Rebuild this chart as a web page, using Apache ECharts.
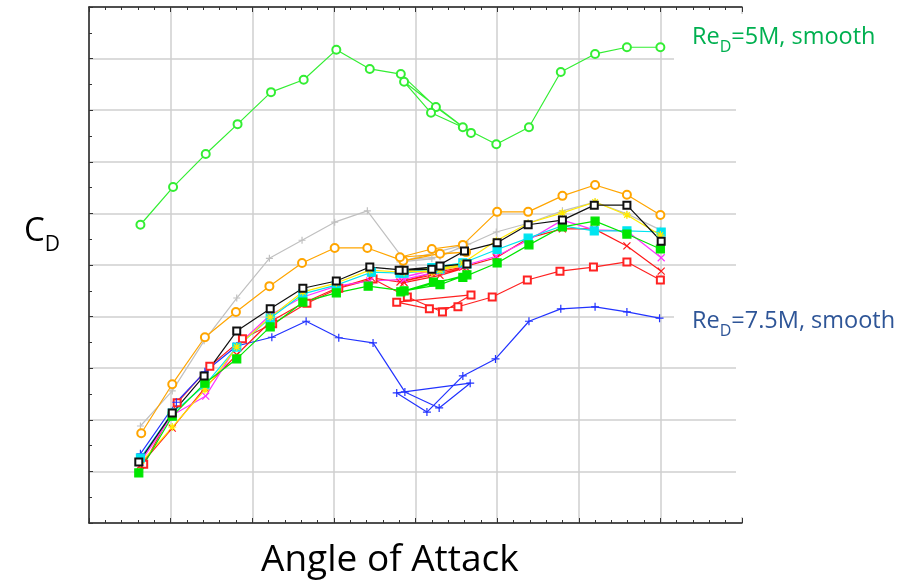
<!DOCTYPE html>
<html>
<head>
<meta charset="utf-8">
<script src="https://cdn.jsdelivr.net/npm/echarts@6/dist/echarts.min.js"></script>
<style>
  html, body { margin: 0; padding: 0; background: #fff; }
  #main { width: 899px; height: 583px; }
</style>
</head>
<body>
<div id="main"></div>
<script>
// points are [angle, CD] in axis units, in the order the sweep was run
var re5mSmooth = [[0.63,5.78],[1.03,6.51],[1.43,7.15],[1.82,7.73],[2.23,8.35],[2.63,8.59],[3.03,9.17],[3.44,8.80],
	[3.82,8.70],[4.25,8.06],[4.68,7.56],[3.86,8.55],[4.19,7.95],[4.58,7.67],[4.99,7.34],[5.39,7.67],[5.78,8.74],[6.20,9.09],[6.59,9.22],[7.00,9.22]];
var re75mSmooth = [[0.63,1.34],[1.07,2.34],[1.42,2.93],[1.81,3.43],[2.24,3.60],[2.66,3.91],[3.06,3.59],[3.48,3.49],
	[3.87,2.54],[4.29,2.23],[4.67,2.71],[3.77,2.52],[4.14,2.15],[4.58,2.85],[4.98,3.18],[5.39,3.91],[5.78,4.15],[6.20,4.19],[6.59,4.09],[6.99,3.97]];
var grayPlus = [[0.63,1.88],[1.02,2.56],[1.41,3.53],[1.81,4.36],[2.21,5.13],[2.61,5.48],[3.01,5.83],[3.41,6.05],
	[3.86,5.10],[4.30,5.16],[4.64,5.41],[3.81,5.06],[4.20,5.12],[4.58,5.35],[4.99,5.64],[5.38,5.81],[5.80,6.05],[6.20,6.22],[6.59,5.99],[7.00,5.68]];
var orangeCircle = [[0.64,1.74],[1.02,2.69],[1.42,3.60],[1.80,4.09],[2.21,4.59],[2.61,5.04],[3.01,5.33],[3.41,5.33],
	[3.85,5.08],[4.30,5.22],[4.62,5.25],[3.81,5.15],[4.20,5.31],[4.58,5.39],[5.00,6.03],[5.38,6.03],[5.80,6.34],[6.20,6.55],[6.59,6.36],[7.00,5.97]];
var blackSquare = [[0.61,1.18],[1.02,2.13],[1.41,2.85],[1.81,3.72],[2.22,4.15],[2.62,4.55],[3.03,4.69],[3.44,4.96],
	[3.86,4.90],[4.30,4.98],[4.63,5.02],[3.80,4.90],[4.20,4.92],[4.60,5.27],[5.00,5.43],[5.38,5.78],[5.80,5.87],[6.19,6.16],[6.59,6.16],[7.01,5.46]];
var yellowStar = [[0.63,1.16],[1.02,1.86],[1.42,2.58],[1.81,3.41],[2.22,3.99],[2.62,4.48],[3.03,4.65],[3.44,4.90],
	[3.86,4.86],[4.30,4.90],[4.63,5.00],[3.81,4.88],[4.20,4.86],[4.58,5.04],[4.99,5.47],[5.38,5.81],[5.80,6.01],[6.20,6.22],[6.59,5.97],[7.00,5.58]];
var cyanSquare = [[0.63,1.26],[1.02,2.13],[1.42,2.67],[1.81,3.41],[2.22,3.97],[2.62,4.44],[3.03,4.61],[3.46,4.86],
	[3.86,4.84],[4.30,4.92],[4.63,5.02],[3.81,4.84],[4.20,4.95],[4.58,5.04],[5.00,5.30],[5.38,5.52],[5.80,5.76],[6.19,5.66],[6.59,5.66],[7.01,5.64]];
var magentaX = [[0.63,1.18],[1.02,2.09],[1.43,2.46],[1.81,3.43],[2.22,4.03],[2.62,4.38],[3.03,4.59],[3.44,4.69],
	[3.86,4.72],[4.30,4.88],[4.63,5.04],[3.81,4.75],[4.20,4.90],[4.58,4.98],[4.99,5.17],[5.38,5.48],[5.80,5.87],[6.19,5.68],[6.59,5.66],[7.01,5.14]];
var redX = [[0.63,1.12],[1.02,1.84],[1.42,2.62],[1.81,3.26],[2.22,3.90],[2.62,4.26],[3.03,4.55],[3.46,4.75],
	[3.86,4.66],[4.30,4.80],[4.62,4.95],[3.81,4.67],[4.20,4.84],[4.58,4.96],[4.99,5.14],[5.38,5.52],[5.80,5.70],[6.19,5.70],[6.59,5.37],[7.01,4.88]];
var greenSquare = [[0.61,0.97],[1.02,2.07],[1.42,2.71],[1.81,3.18],[2.22,3.80],[2.62,4.28],[3.03,4.46],[3.42,4.59],
	[3.86,4.50],[4.30,4.62],[4.63,4.81],[3.82,4.48],[4.22,4.67],[4.58,4.76],[5.00,5.04],[5.39,5.39],[5.80,5.74],[6.20,5.85],[6.59,5.60],[7.00,5.31]];
var redSquare = [[0.67,1.14],[1.08,2.33],[1.48,3.04],[1.88,3.57],[2.25,3.86],[2.67,4.26],[3.06,4.55],[3.48,4.73],
	[3.90,4.38],[4.33,4.09],[4.68,4.42],[3.77,4.28],[4.17,4.15],[4.52,4.19],[4.94,4.38],[5.37,4.71],[5.77,4.88],[6.18,4.96],[6.59,5.06],[7.00,4.71]];

var plusPath = 'path://M0,5L10,5M5,0L5,10';
var crossPath = 'path://M0,0L10,10M10,0L0,10';
var starPath = 'path://M0,5L10,5M5,0L5,10M1.5,1.5L8.5,8.5M8.5,1.5L1.5,8.5';

function mkSeries(name, data, color, symbol, size) {
	return {
		name: name,
		type: 'line',
		data: data,
		symbol: symbol,
		symbolSize: size || 7,
		lineStyle: { color: color, width: 1.2 },
		itemStyle: { color: color, borderColor: color, borderWidth: 1.2 },
		animation: false
	};
}

var myChart = echarts.init(document.getElementById('main'));
var option = {
	backgroundColor: '#fff',
	grid: { left: 89, top: 7, width: 653, height: 516 },
	xAxis: [
		{
			type: 'value', min: 0, max: 8, interval: 1,
			axisLabel: { show: false },
			axisLine: { show: true, onZero: false, lineStyle: { color: '#222', width: 1.5 } },
			axisTick: { show: true, inside: true, length: 5, lineStyle: { color: '#333' } },
			minorTick: { show: true, splitNumber: 5, length: 3, lineStyle: { color: '#333' } },
			splitLine: { show: true, lineStyle: { color: '#cfcfcf', width: 1.5 } }
		},
		{
			type: 'value', position: 'top', min: 0, max: 8, interval: 1,
			axisLabel: { show: false },
			axisLine: { show: true, onZero: false, lineStyle: { color: '#222', width: 1.5 } },
			axisTick: { show: true, inside: true, length: 5, lineStyle: { color: '#333' } },
			minorTick: { show: true, splitNumber: 5, length: 3, lineStyle: { color: '#333' } },
			splitLine: { show: false }
		}
	],
	yAxis: {
		type: 'value', min: 0, max: 10, interval: 1,
		axisLabel: { show: false },
		axisLine: { show: true, onZero: false, lineStyle: { color: '#222', width: 1.5 } },
		axisTick: { show: true, inside: true, length: 4, lineStyle: { color: '#333' } },
		minorTick: { show: true, splitNumber: 2, length: 3, lineStyle: { color: '#333' } },
		splitLine: { show: true, lineStyle: { color: '#cfcfcf', width: 1.5 } }
	},
	graphic: [
		// white boxes behind the labels hide the grid ends on the right
		{ type: 'rect', z: 1, shape: { x: 674, y: 14, width: 225, height: 52 }, style: { fill: '#fff' } },
		{ type: 'rect', z: 1, shape: { x: 674, y: 298, width: 225, height: 44 }, style: { fill: '#fff' } },
		{ type: 'rect', z: 1, shape: { x: 736, y: 14, width: 30, height: 503 }, style: { fill: '#fff' } },
		{
			type: 'text', z: 100, left: 692, top: 25,
			style: {
				text: '{a|Re}{b|D}{a|=5M, smooth}',
				rich: {
					a: { fontSize: 23.5, fontFamily: 'Open Sans', fill: '#00b050', verticalAlign: 'bottom', padding: [0, 0, 6, 0] },
					b: { fontSize: 16, fontFamily: 'Open Sans', fill: '#00b050', verticalAlign: 'bottom' }
				}
			}
		},
		{
			type: 'text', z: 100, left: 692, top: 309,
			style: {
				text: '{a|Re}{b|D}{a|=7.5M, smooth}',
				rich: {
					a: { fontSize: 23.5, fontFamily: 'Open Sans', fill: '#2e5597', verticalAlign: 'bottom', padding: [0, 0, 6, 0] },
					b: { fontSize: 16, fontFamily: 'Open Sans', fill: '#2e5597', verticalAlign: 'bottom' }
				}
			}
		},
		{
			type: 'text', z: 100, left: 24, top: 215,
			style: {
				text: '{a|C}{b|D}',
				rich: {
					a: { fontSize: 33, fontFamily: 'Open Sans', fill: '#000', verticalAlign: 'bottom', padding: [0, 0, 8, 0] },
					b: { fontSize: 21, fontFamily: 'Open Sans', fill: '#000', verticalAlign: 'bottom' }
				}
			}
		},
		{
			type: 'text', z: 100, left: 261, top: 542,
			style: { text: 'Angle of Attack', fontSize: 37, fontFamily: 'Open Sans', fill: '#000' }
		}
	],
	series: [
		mkSeries('gray', grayPlus, '#c0c0c0', plusPath, 7),
		mkSeries('orange', orangeCircle, '#ffa500', 'emptyCircle', 8),
		mkSeries('redSquare', redSquare, '#ff2222', 'emptyRect', 7),
		mkSeries('7.5M', re75mSmooth, '#2233ff', plusPath, 8),
		mkSeries('redX', redX, '#ff1a1a', crossPath, 7),
		mkSeries('magenta', magentaX, '#ff33ff', crossPath, 7),
		mkSeries('cyan', cyanSquare, '#00e5f0', 'rect', 8),
		mkSeries('yellow', yellowStar, '#ffea00', starPath, 8),
		mkSeries('greenSquare', greenSquare, '#00e600', 'rect', 8),
		mkSeries('black', blackSquare, '#111111', 'emptyRect', 7),
		mkSeries('5M', re5mSmooth, '#33ee33', 'emptyCircle', 8)
	]
};
myChart.setOption(option);//渲染数据
</script>
</body>
</html>
